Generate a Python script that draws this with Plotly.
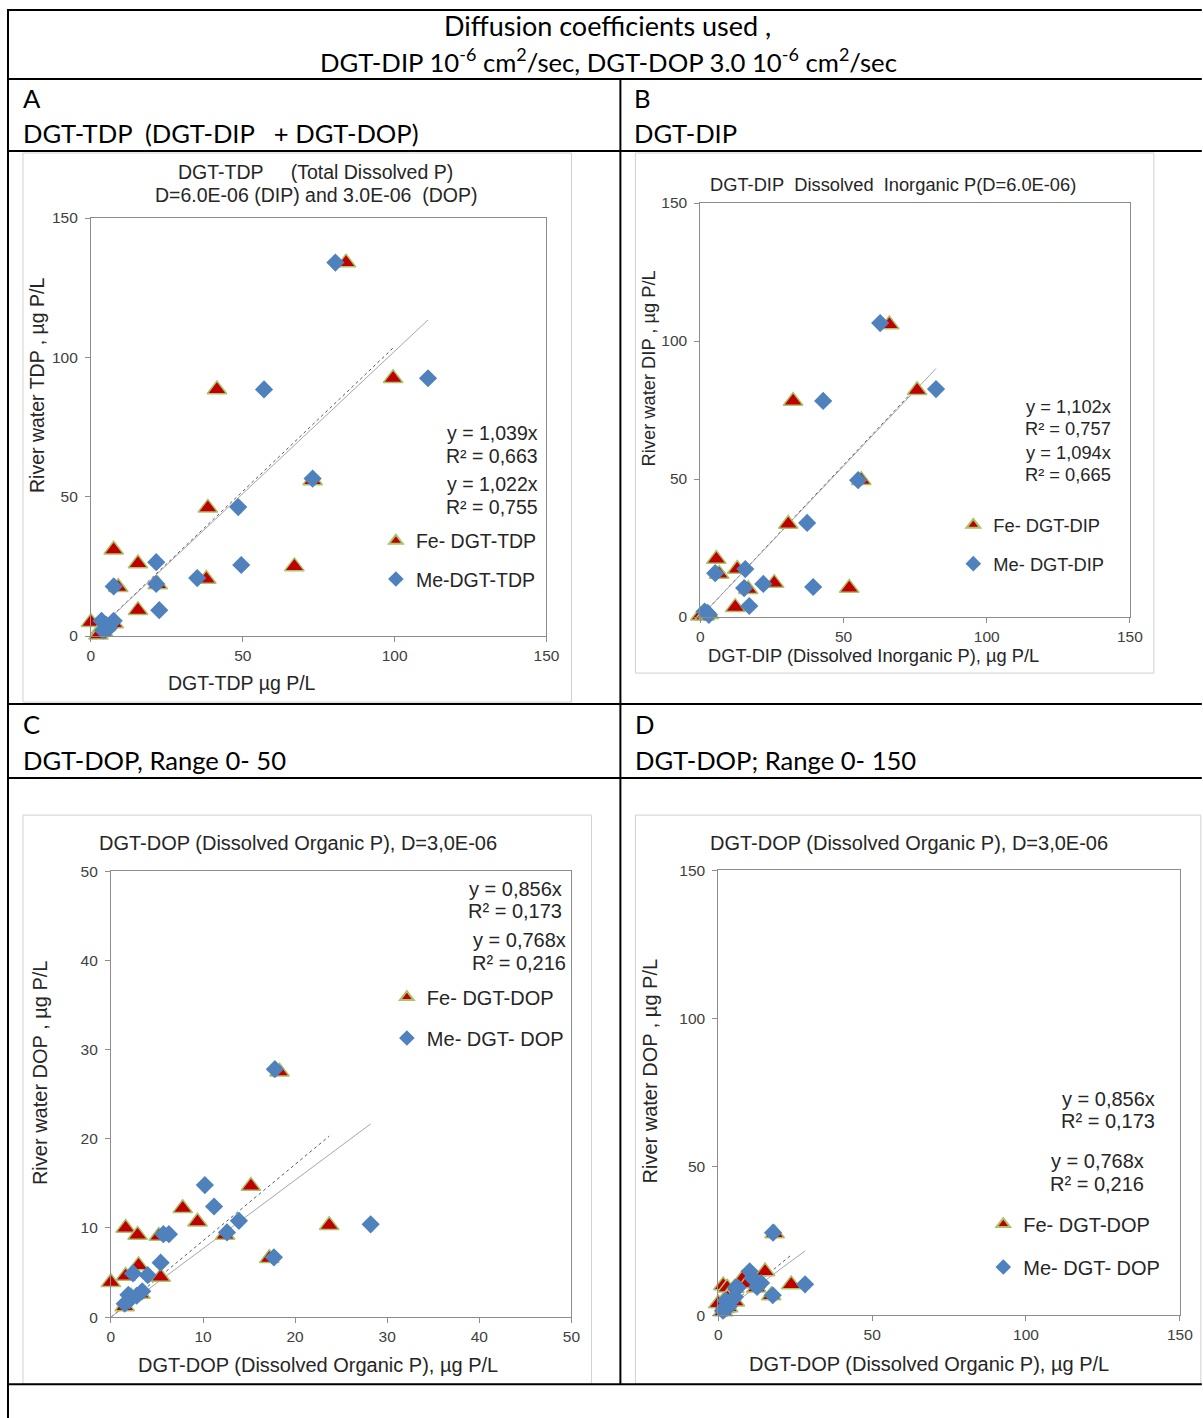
import math
import plotly.graph_objects as go

# ---------------- data ----------------
# Panel A: DGT-TDP (total dissolved P), µg P/L
tdp_fe_x = [84, 99.5, 41.5, 73, 38.5, 67, 38, 7.5, 15.5, 9, 22, 15.5, 0, 3, 5, 7.5, 4, 2.5]
tdp_fe_y = [134, 92.5, 88.5, 55.8, 46, 25, 20.5, 31, 26, 17.5, 18.5, 9.3, 5, 2, 3.5, 4.5, 1.5, 0.5]
tdp_me_x = [80.5, 111, 57, 73, 48.5, 49.5, 35, 21.5, 21.5, 22.5, 7.5, 3.5, 7.5, 5, 4, 6]
tdp_me_y = [134, 92.5, 88.5, 56.5, 46.3, 25.5, 20.8, 26.5, 18.7, 9.3, 17.8, 5.5, 5.5, 4, 2, 3]
tdp_slope = [1.039, 1.022]
tdp_r2 = [0.663, 0.755]

# Panel B: DGT-DIP (dissolved inorganic P), µg P/L
dip_fe_x = [66, 75.7, 32.4, 56.2, 30.7, 5.6, 6.6, 12.9, 16.7, 25.8, 52, 12.2, 0, 1.5, 3]
dip_fe_y = [106, 82.2, 78.3, 49.6, 33.7, 21, 15.6, 17.4, 10.1, 12.3, 10.5, 3.6, 0.5, 0.5, 1]
dip_me_x = [62.8, 82.3, 42.9, 55.1, 37.3, 5.2, 15.7, 15.3, 22, 39.4, 17.1, 1.5, 3, 2.5]
dip_me_y = [106.5, 82.6, 78.3, 49.6, 34.1, 15.9, 17.4, 10.5, 12, 10.9, 4, 2, 0.8, 1.5]
dip_slope = [1.102, 1.094]
dip_r2 = [0.757, 0.665]

# Panels C and D: DGT-DOP (dissolved organic P), µg P/L
dop_fe_x = [18.3, 15.2, 7.8, 9.4, 23.7, 1.6, 2.9, 5.2, 12.4, 17.2, 3.0, 1.6, 0, 5.4, 2.2, 3.2, 1.5]
dop_fe_y = [27.5, 14.7, 12.2, 10.7, 10.3, 10, 9.2, 9.1, 9.2, 6.6, 5.8, 4.6, 3.9, 4.5, 2.3, 2.6, 1.2]
dop_me_x = [17.8, 10.2, 11.2, 13.9, 28.2, 5.7, 6.3, 12.6, 17.7, 5.4, 2.4, 4, 1.9, 3.4, 2.8, 1.5, 2]
dop_me_y = [27.8, 14.8, 12.4, 10.8, 10.4, 9.3, 9.3, 9.5, 6.7, 6.1, 4.9, 4.7, 2.5, 2.9, 2.4, 1.5, 1.9]
dop_slope = [0.856, 0.768]
dop_r2 = [0.173, 0.216]

# ---------------- page geometry ----------------
# layout is specified in page pixels; the page shows the figure slightly
# shrunk and offset, so page pixels are mapped back to figure pixels here
PAGE_W, PAGE_H = 1203, 1418
SX, SY = 0.987, 0.988
CX, CY = 4, 9
FW = math.ceil((PAGE_W - CX) / SX) + 2
FH = math.ceil((PAGE_H - CY) / SY) + 2


def fx(x):
    return (x - CX) / SX


def fy(y):
    return (y - CY) / SY


def px(x):
    return fx(x) / FW


def py(y):
    return 1 - fy(y) / FH


def dec(v):
    return f"{v:.3f}".replace(".", ",")


CHART_FONT = "Liberation Sans, Arial, sans-serif"
TABLE_FONT = "Lato, Noto Sans, sans-serif"
FE_FILL = "#C00000"
FE_EDGE = "#A9C46A"
ME_FILL = "#4F81BD"

fig = go.Figure()

panels = [
    dict(s="", fe=(tdp_fe_x, tdp_fe_y), me=(tdp_me_x, tdp_me_y), slope=tdp_slope, r2=tdp_r2,
         box=(91, 547, 218, 636), rng=150, dt=50, leg="legend", fs=19.5, gap=10,
         names=("Fe- DGT-TDP", "Me-DGT-TDP")),
    dict(s="2", fe=(dip_fe_x, dip_fe_y), me=(dip_me_x, dip_me_y), slope=dip_slope, r2=dip_r2,
         box=(701, 1131, 203, 617), rng=150, dt=50, leg="legend2", fs=18.3, gap=12,
         names=("Fe- DGT-DIP", "Me- DGT-DIP")),
    dict(s="3", fe=(dop_fe_x, dop_fe_y), me=(dop_me_x, dop_me_y), slope=dop_slope, r2=dop_r2,
         box=(111, 572, 871, 1317), rng=50, dt=10, leg="legend3", fs=20, gap=12,
         names=("Fe- DGT-DOP", "Me- DGT- DOP")),
    dict(s="4", fe=(dop_fe_x, dop_fe_y), me=(dop_me_x, dop_me_y), slope=dop_slope, r2=dop_r2,
         box=(719, 1181, 870, 1315), rng=150, dt=50, leg="legend4", fs=20, gap=14,
         names=("Fe- DGT-DOP", "Me- DGT- DOP")),
]

layout_axes = {}
for p in panels:
    s = p["s"]
    xa, ya = "x" + s, "y" + s
    l, r, t, b = p["box"]
    common = dict(range=[0, p["rng"]], dtick=p["dt"], tick0=0, showgrid=False, zeroline=False,
                  showline=True, linecolor="#8C8C8C", linewidth=1, mirror=True,
                  ticks="outside", ticklen=5, tickcolor="#8C8C8C",
                  tickfont=dict(family=CHART_FONT, size=15.5, color="#404040"), fixedrange=True)
    layout_axes["xaxis" + s] = dict(common, domain=[px(l), px(r)], anchor=ya)
    layout_axes["yaxis" + s] = dict(common, domain=[py(b), py(t)], anchor=xa, ticklabelstandoff=4)

    # fitted lines through origin, drawn up to the largest x of each series
    for (xs, _), k, col, dash in ((p["fe"], 0, "#595959", "dot"), (p["me"], 1, "#A6A6A6", "solid")):
        xm = max(xs)
        fig.add_trace(go.Scatter(x=[0, xm], y=[0, p["slope"][k] * xm], mode="lines",
                                 line=dict(color=col, width=1, dash=dash), xaxis=xa, yaxis=ya,
                                 showlegend=False, hoverinfo="skip", cliponaxis=False))

    fig.add_trace(go.Scatter(x=p["fe"][0], y=p["fe"][1], mode="markers", name=p["names"][0],
                             marker=dict(symbol="triangle-up", size=17, color=FE_FILL,
                                         line=dict(color=FE_EDGE, width=1.5)),
                             xaxis=xa, yaxis=ya, legend=p["leg"], legendgroup=p["leg"] + "fe",
                             cliponaxis=False))
    fig.add_trace(go.Scatter(x=p["me"][0], y=p["me"][1], mode="markers", name=p["names"][1],
                             marker=dict(symbol="diamond", size=14, color=ME_FILL,
                                         line=dict(color=ME_FILL, width=0)),
                             xaxis=xa, yaxis=ya, legend=p["leg"], legendgroup=p["leg"] + "me",
                             cliponaxis=False))

# legend placement (marker centre x, first item centre y), page pixels
legend_pos = {"legend": (395, 540), "legend2": (973, 525), "legend3": (406, 996), "legend4": (1003, 1223)}
legends = {}
for p in panels:
    mx, my = legend_pos[p["leg"]]
    legends[p["leg"]] = dict(x=(fx(mx) - 19) / FW, y=1 - (fy(my) - 18.8) / FH, xanchor="left", yanchor="top",
                             bgcolor="rgba(0,0,0,0)", borderwidth=0, tracegroupgap=p["gap"],
                             font=dict(family=CHART_FONT, size=p["fs"], color="#262626"),
                             itemsizing="constant")

annotations = []


def text(x, y, s, size, font=CHART_FONT, xanchor="center", align="center", color="#262626", angle=0):
    annotations.append(dict(x=px(x), y=py(y), xref="paper", yref="paper", text=s, showarrow=False,
                            xanchor=xanchor, yanchor="middle", align=align, textangle=angle,
                            font=dict(family=font, size=size, color=color)))


NB = "\u00a0"
FA, FB, FC, FD = (p["fs"] for p in panels)

# ---- table cell text ----
text(608, 25, "Diffusion coefficients used ,", 27, TABLE_FONT, color="#000")
text(609, 60, "DGT-DIP 10<sup>-6</sup> cm<sup>2</sup>/sec, DGT-DOP 3.0 10<sup>-6</sup> cm<sup>2</sup>/sec",
     25.7, TABLE_FONT, color="#000")
text(21, 98, "A", 25.6, TABLE_FONT, "left", "left", "#000")
text(21, 133, f"DGT-TDP{NB}{NB}(DGT-DIP{NB}{NB}{NB}+ DGT-DOP)", 25.6, TABLE_FONT, "left", "left", "#000")
text(633, 98, "B", 25.6, TABLE_FONT, "left", "left", "#000")
text(633, 133, "DGT-DIP", 25.6, TABLE_FONT, "left", "left", "#000")
text(21, 724, "C", 25.6, TABLE_FONT, "left", "left", "#000")
text(21, 760, "DGT-DOP, Range 0- 50", 25.6, TABLE_FONT, "left", "left", "#000")
text(634, 724, "D", 25.6, TABLE_FONT, "left", "left", "#000")
text(634, 760, "DGT-DOP; Range 0- 150", 25.6, TABLE_FONT, "left", "left", "#000")

# ---- chart titles ----
text(316, 172, f"DGT-TDP{NB*5}(Total Dissolved P)", FA)
text(316, 195, f"D=6.0E-06 (DIP) and 3.0E-06{NB}{NB}(DOP)", FA)
text(894, 184, f"DGT-DIP{NB}{NB}Dissolved{NB}{NB}Inorganic P(D=6.0E-06)", FB)
text(298, 843, "DGT-DOP (Dissolved Organic P), D=3,0E-06", FC)
text(910, 843, "DGT-DOP (Dissolved Organic P), D=3,0E-06", FD)

# ---- axis titles ----
text(242, 683, "DGT-TDP µg P/L", FA)
text(37, 385, "River water TDP , µg P/L", FA, angle=-90)
text(874, 655, "DGT-DIP (Dissolved Inorganic P), µg P/L", FB)
text(649, 368, "River water DIP , µg P/L", FB, angle=-90)
text(318, 1365, "DGT-DOP (Dissolved Organic P), µg P/L", FC)
text(40, 1072, "River water DOP , µg P/L", FC, angle=-90)
text(930, 1364, "DGT-DOP (Dissolved Organic P), µg P/L", FD)
text(651, 1071, "River water DOP , µg P/L", FD, angle=-90)

# ---- regression labels: (right edge, eq-line y, R²-line y) for each series ----
eq_pos = [
    ((541, 433, 456), (541, 484, 507)),
    ((1114, 406, 428), (1114, 452, 474)),
    ((565, 889, 911), (569, 940, 963)),
    ((1158, 1099, 1121), (1147, 1161, 1184)),
]
for p, pos in zip(panels, eq_pos):
    for k in range(2):
        x, y1, y2 = pos[k]
        text(x, y1, f"y = {dec(p['slope'][k])}x", p["fs"], xanchor="right", align="right")
        text(x, y2, f"R² = {dec(p['r2'][k])}", p["fs"], xanchor="right", align="right")

# ---- table rules and chart frames ----
shapes = []


def line(x0, y0, x1, y1, w=2, c="#000"):
    shapes.append(dict(type="line", xref="paper", yref="paper", x0=px(x0), y0=py(y0), x1=px(x1), y1=py(y1),
                       line=dict(color=c, width=w)))


def rect(x0, y0, x1, y1, c="#D0D0D0"):
    shapes.append(dict(type="rect", xref="paper", yref="paper", x0=px(x0), y0=py(y0), x1=px(x1), y1=py(y1),
                       line=dict(color=c, width=1), layer="below"))


rect(23, 153, 572, 702)
rect(636, 153, 1155, 673)
rect(23, 815, 592, 1384)
rect(636, 815, 1202, 1384)

top_rule = CY + SY  # highest row the page can show
for yy in (top_rule, 79, 151, 704, 778, 1384):
    line(7, yy, PAGE_W, yy)
line(8, top_rule - 1, 8, PAGE_H)
line(621, 79, 621, 1384)

fig.update_layout(
    width=FW, height=FH, margin=dict(l=0, r=0, t=0, b=0, pad=0),
    paper_bgcolor="white", plot_bgcolor="white", showlegend=True,
    annotations=annotations, shapes=shapes, **layout_axes, **legends,
)

fig.write_html("out.html")
